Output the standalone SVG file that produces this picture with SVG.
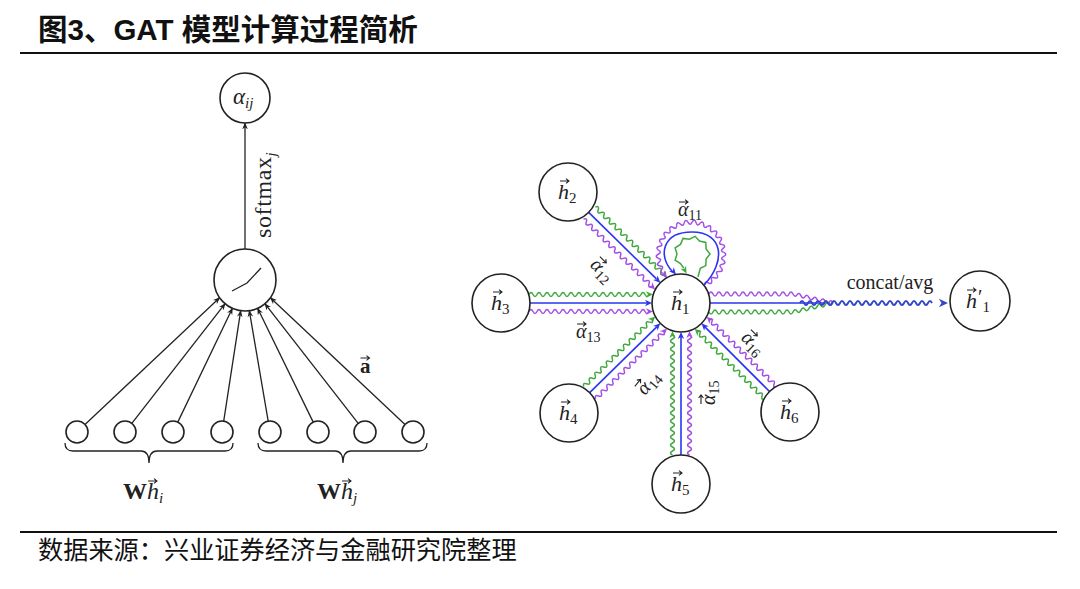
<svg xmlns="http://www.w3.org/2000/svg" xmlns:xlink="http://www.w3.org/1999/xlink" width="1080" height="589" viewBox="0 0 1080 589">
<style>
.nd{fill:#fff;stroke:#222;stroke-width:1.6}
.k{stroke:#222;stroke-width:1.3;fill:none}
.b{stroke:#2b35f0;stroke-width:1.6;fill:none}
.g{stroke:#3fa93f;stroke-width:1.5;fill:none}
.p{stroke:#a44ee8;stroke-width:1.5;fill:none}
.bd{stroke:#3346c8;stroke-width:1.9;fill:none}
.bf{fill:#2b35f0}.gf{fill:#3fa93f}.pf{fill:#a44ee8}.bdf{fill:#3346c8}
.m{font-family:"Liberation Serif","DejaVu Serif",serif;font-style:italic;fill:#222}
.r{font-family:"Liberation Serif","DejaVu Serif",serif;font-style:normal;fill:#222}
.cjk{font-family:"Liberation Sans","Noto Sans CJK SC",sans-serif;fill:#111}
.v{fill:none;stroke:#222;stroke-width:1.1}
</style>
<defs>
<marker id="arr" viewBox="0 0 10 8" refX="9" refY="4" markerWidth="7" markerHeight="6" markerUnits="userSpaceOnUse" orient="auto"><path d="M0 0L10 4L0 8L3 4Z" fill="#222"/></marker>
<path id="ah" d="M0 0L-7 -3.2L-5 0L-7 3.2Z"/>
<path id="vec" d="M0 0H8.6M6 -2.4L9 0L6 2.4"/>
<path id="w96" d="M0 0q2-4 4 0t4 0t4 0t4 0t4 0t4 0t4 0t4 0t4 0t4 0t4 0t4 0t4 0t4 0t4 0t4 0t4 0t4 0t4 0t4 0t4 0t4 0t4 0t4 0"/>
<path id="w120" d="M0 0q2-4 4 0t4 0t4 0t4 0t4 0t4 0t4 0t4 0t4 0t4 0t4 0t4 0t4 0t4 0t4 0t4 0t4 0t4 0t4 0t4 0t4 0t4 0t4 0t4 0t4 0t4 0t4 0t4 0t4 0t4 0"/>
<path id="w8" d="M0 0q2-4 4 0t4 0"/>
</defs>
<rect width="1080" height="589" fill="#fff"/>
<!-- header / footer -->
<text class="cjk" x="38" y="40" font-size="29.5" font-weight="bold">图3、GAT 模型计算过程简析</text>
<line x1="20" y1="53" x2="1057" y2="53" stroke="#111" stroke-width="2"/>
<line x1="20" y1="532" x2="1057" y2="532" stroke="#111" stroke-width="2"/>
<text class="cjk" x="38" y="559" font-size="25.2">数据来源：兴业证券经济与金融研究院整理</text>

<!-- left diagram connectors -->
<g id="left-connectors" class="k" marker-end="url(#arr)">
<line x1="245" y1="249" x2="245" y2="123"/>
<line x1="85" y1="424.5" x2="219.6" y2="297.8"/>
<line x1="131.8" y1="423.3" x2="225.1" y2="303.7"/>
<line x1="177.8" y1="422.1" x2="232.4" y2="308.3"/>
<line x1="223.7" y1="421.1" x2="240.7" y2="310.7"/>
<line x1="268.2" y1="421.2" x2="249.3" y2="310.7"/>
<line x1="313.2" y1="422.1" x2="257.6" y2="308.3"/>
<line x1="358.2" y1="423.3" x2="264.9" y2="303.7"/>
<line x1="405" y1="424.5" x2="270.4" y2="297.8"/>
</g>
<g id="alpha-ij"><circle class="nd" cx="245" cy="98" r="25"/><text class="m" x="233" y="104" font-size="23">α<tspan font-size="15" dy="4">ij</tspan></text></g>
<g id="activation"><circle class="nd" cx="245" cy="280" r="31"/><path class="k" d="M232 291L247 283L261 268"/></g>
<g id="inputs">
<circle class="nd" cx="77" cy="432" r="11"/><circle class="nd" cx="125" cy="432" r="11"/><circle class="nd" cx="173" cy="432" r="11"/><circle class="nd" cx="222" cy="432" r="11"/>
<circle class="nd" cx="270" cy="432" r="11"/><circle class="nd" cx="318" cy="432" r="11"/><circle class="nd" cx="365" cy="432" r="11"/><circle class="nd" cx="413" cy="432" r="11"/>
</g>
<g id="braces" class="k" stroke-width="1.6">
<path d="M65 443Q65 451 73 451L141 451Q149 451 149 463Q149 451 157 451L225 451Q233 451 233 443"/>
<path d="M258 443Q258 451 266 451L335 451Q343 451 343 463Q343 451 351 451L419 451Q427 451 427 443"/>
</g>
<text class="r" transform="translate(271 238) rotate(-90)" font-size="24" letter-spacing="0.6">softmax<tspan class="m" font-size="15" dy="5">j</tspan></text>
<g id="a-label"><text class="r" x="360" y="373" font-size="21" font-weight="bold">a</text><use href="#vec" class="v" x="360.5" y="358" stroke-width="1.5"/></g>
<g id="whi-label"><text class="r" x="123" y="499" font-size="24"><tspan font-weight="bold">W</tspan><tspan class="m">h</tspan><tspan class="m" font-size="15" dy="4">i</tspan></text><use href="#vec" class="v" x="148" y="481"/></g>
<g id="whj-label"><text class="r" x="317" y="499" font-size="24"><tspan font-weight="bold">W</tspan><tspan class="m">h</tspan><tspan class="m" font-size="15" dy="4">j</tspan></text><use href="#vec" class="v" x="342" y="481"/></g>

<!-- right diagram connectors -->
<g id="right-connectors">
<g transform="translate(568 192) rotate(44.5)">
<line class="b" x1="29" y1="0" x2="124" y2="0"/><use href="#ah" x="129.4" y="0" class="bf"/>
<use href="#w96" x="30" y="-8.5" class="g"/><use href="#ah" x="130.5" y="-8.5" class="gf"/>
<use href="#w96" x="30" y="8.5" class="p"/><use href="#ah" x="130.5" y="8.5" class="pf"/>
</g>
<g transform="translate(501 303)">
<line class="b" x1="29" y1="0" x2="146" y2="0"/><use href="#ah" x="151" y="0" class="bf"/>
<use href="#w120" x="28" y="-8.5" class="g"/><use href="#ah" x="152" y="-8.5" class="gf"/>
<use href="#w120" x="28" y="8.5" class="p"/><use href="#ah" x="152" y="8.5" class="pf"/>
</g>
<g transform="translate(569 413) rotate(-44.48)">
<line class="b" x1="29" y1="0" x2="123" y2="0"/><use href="#ah" x="128" y="0" class="bf"/>
<use href="#w96" x="29" y="-8.5" class="g"/><use href="#ah" x="129.1" y="-8.5" class="gf"/>
<use href="#w96" x="29" y="8.5" class="p"/><use href="#ah" x="129.1" y="8.5" class="pf"/>
</g>
<g transform="translate(681 484) rotate(-90)">
<line class="b" x1="29" y1="0" x2="147" y2="0"/><use href="#ah" x="152" y="0" class="bf"/>
<use href="#w120" x="29" y="-8.5" class="g"/><use href="#ah" x="153.1" y="-8.5" class="gf"/>
<use href="#w120" x="29" y="8.5" class="p"/><use href="#ah" x="153.1" y="8.5" class="pf"/>
</g>
<g transform="translate(790 412) rotate(-135)">
<line class="b" x1="29" y1="0" x2="120" y2="0"/><use href="#ah" x="125.1" y="0" class="bf"/>
<use href="#w96" x="27" y="-8.5" class="g"/><use href="#ah" x="126.2" y="-8.5" class="gf"/>
<use href="#w96" x="27" y="8.5" class="p"/><use href="#ah" x="126.2" y="8.5" class="pf"/>
</g>
<!-- self loop -->
<g class="p">
<use href="#w8" transform="rotate(65 691 255) translate(724 255) rotate(-96.96)"/>
<use href="#w8" transform="rotate(51.08 691 255) translate(724 255) rotate(-96.96)"/>
<use href="#w8" transform="rotate(37.16 691 255) translate(724 255) rotate(-96.96)"/>
<use href="#w8" transform="rotate(23.24 691 255) translate(724 255) rotate(-96.96)"/>
<use href="#w8" transform="rotate(9.32 691 255) translate(724 255) rotate(-96.96)"/>
<use href="#w8" transform="rotate(-4.6 691 255) translate(724 255) rotate(-96.96)"/>
<use href="#w8" transform="rotate(-18.52 691 255) translate(724 255) rotate(-96.96)"/>
<use href="#w8" transform="rotate(-32.44 691 255) translate(724 255) rotate(-96.96)"/>
<use href="#w8" transform="rotate(-46.36 691 255) translate(724 255) rotate(-96.96)"/>
<use href="#w8" transform="rotate(-60.28 691 255) translate(724 255) rotate(-96.96)"/>
<use href="#w8" transform="rotate(-74.2 691 255) translate(724 255) rotate(-96.96)"/>
<use href="#w8" transform="rotate(-88.12 691 255) translate(724 255) rotate(-96.96)"/>
<use href="#w8" transform="rotate(-102.04 691 255) translate(724 255) rotate(-96.96)"/>
<use href="#w8" transform="rotate(-115.96 691 255) translate(724 255) rotate(-96.96)"/>
<use href="#w8" transform="rotate(-129.88 691 255) translate(724 255) rotate(-96.96)"/>
<use href="#w8" transform="rotate(-143.8 691 255) translate(724 255) rotate(-96.96)"/>
<use href="#w8" transform="rotate(-157.72 691 255) translate(724 255) rotate(-96.96)"/>
<use href="#w8" transform="rotate(-171.64 691 255) translate(724 255) rotate(-96.96)"/>
<use href="#w8" transform="rotate(-185.56 691 255) translate(724 255) rotate(-96.96)"/>
<use href="#w8" transform="rotate(-199.48 691 255) translate(724 255) rotate(-96.96)"/>
</g>
<use href="#ah" class="pf" transform="translate(666.8 278.2) rotate(56.6)"/>
<path class="b" d="M704 285C726 262 724 232 692 232C662 232 658 256 672 271"/>
<use href="#ah" class="bf" transform="translate(676 274.5) rotate(48.8)"/>
<polyline class="g" points="698,277 700.3,268.3 705.8,265.6 706.1,259.1 710,254 706.1,248.9 705.8,242.4 699.5,241 695.1,236.3 689.4,239.2 683,238.4 680.5,244.4 675.1,247.8 677,254 675.1,260.2 680.5,263.6 683.75,268.3"/>
<use href="#ah" class="gf" transform="translate(686.5 273.5) rotate(62.6)"/>
<!-- output edge -->
<line class="b" x1="710" y1="303" x2="830" y2="303"/>
<path class="p" d="M709 294q2-4 4 0t4 0t4 0t4 0t4 0t4 0t4 0t4 0t4 0t4 0t4 0t4 0t4 0t4 0t4 0t4 0t4 0t4 0t4 0t4 0t4 0t4 0.9t4 0.9t4 0.9t4 0.9t4 0.9t4 0.9t4 0.9t4 0.9t4 0.9t4 0.9"/>
<path class="g" d="M709 312q2 4 4 0t4 0t4 0t4 0t4 0t4 0t4 0t4 0t4 0t4 0t4 0t4 0t4 0t4 0t4 0t4 0t4 0t4 0t4 0t4 0t4 0t4 -0.9t4 -0.9t4 -0.9t4 -0.9t4 -0.9t4 -0.9t4 -0.9t4 -0.9t4 -0.9t4 -0.9"/>
<path class="bd" d="M800 303q2-4 4 0t4 0t4 0t4 0t4 0t4 0t4 0t4 0t4 0t4 0t4 0t4 0t4 0t4 0t4 0t4 0t4 0t4 0t4 0t4 0t4 0t4 0t4 0t4 0t4 0t4 0t4 0t4 0t4 0t4 0t4 0t4 0t4 0"/>
<use href="#ah" class="bdf" transform="translate(948 303) scale(1.3)"/>
</g>

<!-- right diagram nodes -->
<g id="h1"><circle class="nd" cx="681" cy="303" r="29"/><text class="m" x="671" y="310" font-size="22">h<tspan class="r" font-size="15" dy="4">1</tspan></text><use href="#vec" class="v" x="673" y="292"/></g>
<g id="h2"><circle class="nd" cx="568" cy="192" r="29"/><text class="m" x="558" y="199" font-size="22">h<tspan class="r" font-size="15" dy="4">2</tspan></text><use href="#vec" class="v" x="560" y="181"/></g>
<g id="h3"><circle class="nd" cx="501" cy="303" r="29"/><text class="m" x="491" y="310" font-size="22">h<tspan class="r" font-size="15" dy="4">3</tspan></text><use href="#vec" class="v" x="493" y="292"/></g>
<g id="h4"><circle class="nd" cx="569" cy="413" r="29"/><text class="m" x="559" y="420" font-size="22">h<tspan class="r" font-size="15" dy="4">4</tspan></text><use href="#vec" class="v" x="561" y="402"/></g>
<g id="h5"><circle class="nd" cx="681" cy="484" r="29"/><text class="m" x="671" y="491" font-size="22">h<tspan class="r" font-size="15" dy="4">5</tspan></text><use href="#vec" class="v" x="673" y="473"/></g>
<g id="h6"><circle class="nd" cx="790" cy="412" r="29"/><text class="m" x="780" y="419" font-size="22">h<tspan class="r" font-size="15" dy="4">6</tspan></text><use href="#vec" class="v" x="782" y="401"/></g>
<g id="h1p"><circle class="nd" cx="980" cy="301" r="30"/><text class="m" x="966" y="308" font-size="22" fill="#555">h<tspan class="r" font-size="20" dx="1" dy="-4" fill="#555">′</tspan><tspan class="r" font-size="15" dy="8" fill="#555">1</tspan></text><use href="#vec" class="v" x="967" y="290" stroke="#555"/></g>

<!-- labels -->
<g id="labels">
<g transform="translate(690 210)"><text class="m" x="-12" y="6" font-size="20">α<tspan class="r" font-size="14" dy="4">11</tspan></text><use href="#vec" class="v" x="-11" y="-8"/></g>
<g transform="translate(602 270) rotate(45)"><text class="m" x="-12" y="6" font-size="20">α<tspan class="r" font-size="14" dy="4">12</tspan></text><use href="#vec" class="v" x="-11" y="-8"/></g>
<g transform="translate(588 332)"><text class="m" x="-12" y="6" font-size="20">α<tspan class="r" font-size="14" dy="4">13</tspan></text><use href="#vec" class="v" x="-11" y="-8"/></g>
<g transform="translate(648 383) rotate(-50)"><text class="m" x="-12" y="6" font-size="20">α<tspan class="r" font-size="14" dy="4">14</tspan></text><use href="#vec" class="v" x="-11" y="-8"/></g>
<g transform="translate(709 393) rotate(-90)"><text class="m" x="-12" y="6" font-size="20">α<tspan class="r" font-size="14" dy="4">15</tspan></text><use href="#vec" class="v" x="-11" y="-8"/></g>
<g transform="translate(753 343) rotate(45)"><text class="m" x="-12" y="6" font-size="20">α<tspan class="r" font-size="14" dy="4">16</tspan></text><use href="#vec" class="v" x="-11" y="-8"/></g>
<text class="r" x="890" y="289" font-size="20" text-anchor="middle">concat/avg</text>
</g>
</svg>
